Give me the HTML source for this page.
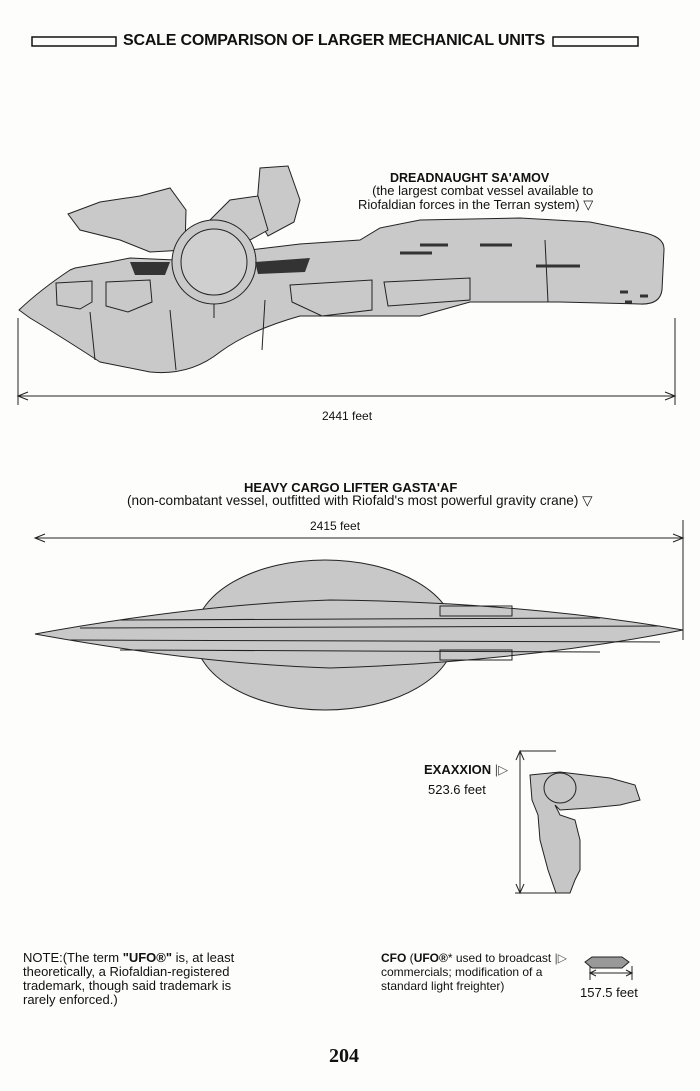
<!DOCTYPE html>
<html><head><meta charset="utf-8"><style>
html,body{margin:0;padding:0;background:#fdfdfb;}
body{width:700px;height:1091px;position:relative;overflow:hidden;font-family:"Liberation Sans",Arial,sans-serif;color:#111;}
.t{position:absolute;white-space:nowrap;}
</style></head><body>
<svg width="700" height="1091" style="position:absolute;left:0;top:0">
<rect x="32" y="37" width="84" height="9" fill="none" stroke="#111" stroke-width="1.5"/>
<rect x="553" y="37" width="85" height="9" fill="none" stroke="#111" stroke-width="1.5"/>
<!-- Dreadnought -->
<g stroke="#222" stroke-width="1" fill="#c9c9c9">
<path d="M256,216 L260,168 L288,166 L300,200 L294,222 L268,236 Z"/>
<path d="M210,220 L230,200 L258,196 L268,230 L250,240 Z"/>
<path d="M19,310 Q40,290 70,270 L75,268 L110,262 L130,258 L175,260 L250,250 L300,244 L360,240 L380,228 L420,220 L520,218 L590,222 L640,232 Q665,236 664,250 L662,290 Q660,305 640,304 L560,302 L470,302 L420,316 L300,316 Q250,330 220,352 Q190,376 150,372 L100,362 Q60,336 30,318 Z"/>
<path d="M68,214 L100,202 L140,196 L170,188 L186,210 L185,250 L150,252 L120,240 L80,230 Z"/>
<circle cx="214" cy="262" r="42"/>
<circle cx="214" cy="262" r="33" fill="#cfcfcf"/>
<path d="M56,283 L92,281 L92,302 L80,309 L57,305 Z"/>
<path d="M106,282 L150,280 L152,302 L128,312 L106,306 Z"/>
<path d="M290,285 L372,280 L372,310 L322,316 L292,302 Z"/>
<path d="M384,282 L470,278 L470,300 L388,306 Z"/>
</g>
<g stroke="#222" stroke-width="1" fill="none">
<line x1="90" y1="312" x2="95" y2="360"/><line x1="170" y1="310" x2="176" y2="370"/>
<line x1="265" y1="300" x2="262" y2="350"/><line x1="545" y1="240" x2="548" y2="302"/>
<line x1="214" y1="304" x2="214" y2="318"/>
</g>
<g stroke="#333" stroke-width="3">
<line x1="400" y1="253" x2="432" y2="253"/><line x1="420" y1="245" x2="448" y2="245"/>
<line x1="480" y1="245" x2="512" y2="245"/><line x1="536" y1="266" x2="580" y2="266"/>
<line x1="620" y1="292" x2="628" y2="292"/><line x1="640" y1="296" x2="648" y2="296"/>
<line x1="625" y1="302" x2="632" y2="302"/>
</g>
<g fill="#333"><path d="M130,262 L170,262 L165,275 L135,275 Z"/><path d="M255,262 L310,258 L305,272 L258,274 Z"/></g>
<g stroke="#222" stroke-width="1" fill="none">
<line x1="18" y1="318" x2="18" y2="405"/><line x1="675" y1="318" x2="675" y2="405"/>
<line x1="18" y1="396" x2="675" y2="396"/>
<path d="M28,392 L18,396 L28,400 M665,392 L675,396 L665,400"/>
</g>
<!-- Cargo lifter -->
<g stroke="#222" stroke-width="1" fill="#c8c8c8">
<ellipse cx="325" cy="635" rx="130" ry="75"/>
<path d="M35,634 Q200,604 330,600 Q520,602 683,630 Q520,662 330,668 Q200,664 35,634 Z"/>
</g>
<g stroke="#222" stroke-width="1" fill="none">
<line x1="120" y1="620" x2="600" y2="618"/><line x1="80" y1="628" x2="660" y2="626"/>
<line x1="70" y1="640" x2="660" y2="642"/><line x1="120" y1="650" x2="600" y2="652"/>
<rect x="440" y="606" width="72" height="10"/><rect x="440" y="650" width="72" height="10"/>
<line x1="35" y1="538" x2="683" y2="538"/><line x1="683" y1="520" x2="683" y2="640"/>
<path d="M45,534 L35,538 L45,542 M673,534 L683,538 L673,542"/>
</g>
<!-- Exaxxion -->
<g stroke="#222" stroke-width="1" fill="#c6c6c6">
<path d="M530,775 L560,772 L610,778 L635,785 L640,800 L620,805 L590,808 L560,810 L555,805 L560,815 L575,820 L580,840 L580,870 L575,880 L570,893 L556,893 L548,870 L540,840 L538,815 L532,800 Z"/>
<ellipse cx="560" cy="788" rx="16" ry="15"/>
</g>
<g stroke="#222" stroke-width="1" fill="none">
<line x1="520" y1="751" x2="556" y2="751"/><line x1="515" y1="893" x2="556" y2="893"/>
<line x1="520" y1="751" x2="520" y2="893"/>
<path d="M516,760 L520,751 L524,760 M516,884 L520,893 L524,884"/>
</g>
<path d="M592,957 L622,957 L629,962 L622,968 L592,968 L585,962 Z" fill="#999" stroke="#222"/>
<g stroke="#222" stroke-width="1" fill="none">
<line x1="590" y1="966" x2="590" y2="980"/><line x1="632" y1="966" x2="632" y2="980"/>
<line x1="590" y1="973" x2="632" y2="973"/><path d="M596,970 L590,973 L596,976 M626,970 L632,973 L626,976"/>
</g>
</svg>
<div class="t" style="left:123px;top:32px;font-size:16px;font-weight:bold;letter-spacing:-0.2px">SCALE COMPARISON OF LARGER MECHANICAL UNITS</div>
<div class="t" style="left:390px;top:171px;font-size:12.5px;font-weight:bold">DREADNAUGHT SA'AMOV</div>
<div class="t" style="left:358px;top:184px;font-size:13px;line-height:14px;text-align:right">(the largest combat vessel available to<br>Riofaldian forces in the Terran system) ▽</div>
<div class="t" style="left:322px;top:409px;font-size:12px">2441 feet</div>
<div class="t" style="left:244px;top:480px;font-size:13px;font-weight:bold">HEAVY CARGO LIFTER GASTA'AF</div>
<div class="t" style="left:127px;top:493px;font-size:13.6px">(non-combatant vessel, outfitted with Riofald's most powerful gravity crane) ▽</div>
<div class="t" style="left:310px;top:519px;font-size:12px">2415 feet</div>
<div class="t" style="left:424px;top:762px;font-size:13px;font-weight:bold">EXAXXION <span style="font-weight:normal;color:#555">|▷</span></div>
<div class="t" style="left:428px;top:782px;font-size:13px">523.6 feet</div>
<div class="t" style="left:23px;top:951px;font-size:13px;line-height:14px">NOTE:(The term <b>"UFO®"</b> is, at least<br>theoretically, a Riofaldian-registered<br>trademark, though said trademark is<br>rarely enforced.)</div>
<div class="t" style="left:381px;top:951px;font-size:12px;line-height:14px"><b>CFO</b> (<b>UFO®</b>* used to broadcast <span style="color:#555">|▷</span><br>commercials; modification of a<br>standard light freighter)</div>
<div class="t" style="left:580px;top:985px;font-size:13px">157.5 feet</div>
<div class="t" style="left:329px;top:1045px;font-size:20px;font-weight:bold;font-family:'Liberation Serif',serif">204</div>
</body></html>
